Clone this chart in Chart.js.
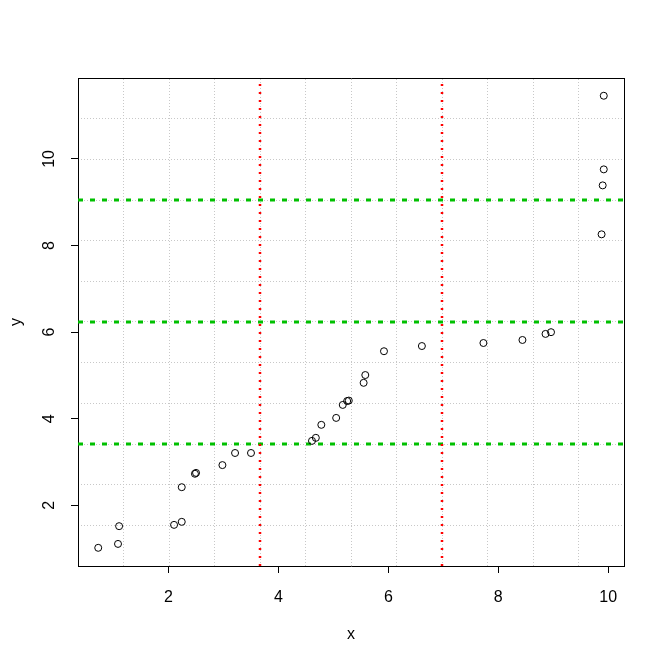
<!DOCTYPE html>
<html>
<head>
<meta charset="utf-8">
<script src="https://cdn.jsdelivr.net/npm/chart.js@4.4.0/dist/chart.umd.min.js"></script>
<style>
  body { margin: 0; background: #fff; }
  #wrap { width: 665px; height: 664px; }
</style>
</head>
<body>
<div id="wrap"><canvas id="myChart"></canvas></div>
<script>
// points
const xVals = [0.72, 1.08, 1.10, 2.10, 2.24, 2.24, 2.48, 2.50, 2.98, 3.21, 3.50, 4.61, 4.68, 4.78, 5.05,
  5.17, 5.25, 5.28, 5.55, 5.58, 5.92, 6.61, 7.73, 8.44, 8.86, 8.96, 9.92, 9.92, 9.90, 9.88];
const yVals = [1.02, 1.11, 1.52, 1.55, 1.62, 2.42, 2.73, 2.75, 2.93, 3.21, 3.21, 3.49, 3.56, 3.86, 4.02,
  4.32, 4.41, 4.42, 4.83, 5.01, 5.56, 5.68, 5.75, 5.82, 5.96, 6.00, 11.46, 9.76, 9.39, 8.26];

const xTicks = [2, 4, 6, 8, 10];
const yTicks = [2, 4, 6, 8, 10];

// reference lines
const vLines = [3.664, 6.976];
const hLines = [3.42, 6.235, 9.05];

// axis limits (R style 4% padding)
const xMin = 0.352, xMax = 10.288;
const yMin = 0.60, yMax = 11.87;
const gridN = 12;

const font = { family: 'Arial, "Liberation Sans", sans-serif', size: 16 };

const points = xVals.map((x, i) => ({ x: x, y: yVals[i] }));

const datasets = [{
  type: 'scatter',
  data: points,
  pointStyle: 'circle',
  pointRadius: 3.5,
  pointBorderWidth: 1,
  pointBorderColor: '#000',
  pointBackgroundColor: 'rgba(0,0,0,0)',
  showLine: false
}];
vLines.forEach(v => {
  datasets.push({
    type: 'line',
    data: [{ x: v, y: yMin }, { x: v, y: yMax }],
    borderColor: '#ff0000',
    borderWidth: 2.5,
    borderDash: [2, 6],
    pointRadius: 0
  });
});
hLines.forEach(h => {
  datasets.push({
    type: 'line',
    data: [{ x: xMin, y: h }, { x: xMax, y: h }],
    borderColor: '#00c000',
    borderWidth: 3,
    borderDash: [5, 7],
    pointRadius: 0
  });
});

const evenTicks = (min, max) => {
  const out = [];
  for (let i = 1; i < gridN; i++) out.push({ value: min + (max - min) * i / gridN });
  return out;
};

// y tick labels are rotated like R's default axis
const yLabels = {
  id: 'yLabels',
  afterDraw(chart) {
    const c = chart.ctx;
    const sc = chart.scales.y;
    c.save();
    c.fillStyle = '#000';
    c.font = font.size + 'px ' + font.family;
    c.textAlign = 'center';
    c.textBaseline = 'middle';
    yTicks.forEach(v => {
      c.save();
      c.translate(50, sc.getPixelForValue(v));
      c.rotate(-Math.PI / 2);
      c.fillText(String(v), 0, 0);
      c.restore();
    });
    c.restore();
  }
};

const ctx = document.getElementById('myChart').getContext('2d');
const chart = new Chart(ctx, {
  type: 'scatter',
  data: { datasets },
  options: {
    responsive: true,
    maintainAspectRatio: false,
    animation: false,
    layout: { padding: { top: 78, right: 41, left: 0, bottom: 0 } },
    plugins: { legend: { display: false }, tooltip: { enabled: false } },
    scales: {
      x: {
        type: 'linear', position: 'bottom', min: xMin, max: xMax,
        afterBuildTicks: s => { s.ticks = xTicks.map(v => ({ value: v })); },
        afterFit: s => { s.height = 98; },
        grid: { drawOnChartArea: false, drawTicks: true, tickLength: 7, tickColor: '#000', tickWidth: 1 },
        border: { display: true, color: '#000', width: 1 },
        ticks: { color: '#000', font, padding: 15, maxRotation: 0 },
        title: { display: true, text: 'x', color: '#000', font, padding: { top: 0, bottom: 20 } }
      },
      y: {
        type: 'linear', position: 'left', min: yMin, max: yMax,
        afterBuildTicks: s => { s.ticks = yTicks.map(v => ({ value: v })); },
        afterFit: s => { s.width = 78; },
        grid: { drawOnChartArea: false, drawTicks: true, tickLength: 7, tickColor: '#000', tickWidth: 1 },
        border: { display: true, color: '#000', width: 1 },
        ticks: { display: false },
        title: { display: true, text: 'y', color: '#000', font, padding: { top: 7, bottom: 0 } }
      },
      xg: {
        type: 'linear', position: 'top', axis: 'x', min: xMin, max: xMax,
        afterBuildTicks: s => { s.ticks = evenTicks(xMin, xMax); },
        afterFit: s => { s.height = 0; },
        grid: { color: '#c8c8c8', lineWidth: 1, drawTicks: false },
        border: { display: true, color: '#000', width: 1, dash: [1, 2] },
        ticks: { display: false }
      },
      yg: {
        type: 'linear', position: 'right', axis: 'y', min: yMin, max: yMax,
        afterBuildTicks: s => { s.ticks = evenTicks(yMin, yMax); },
        afterFit: s => { s.width = 0; },
        grid: { color: '#c8c8c8', lineWidth: 1, drawTicks: false },
        border: { display: true, color: '#000', width: 1, dash: [1, 2] },
        ticks: { display: false }
      }
    }
  },
  plugins: [yLabels]
});
</script>
</body>
</html>
